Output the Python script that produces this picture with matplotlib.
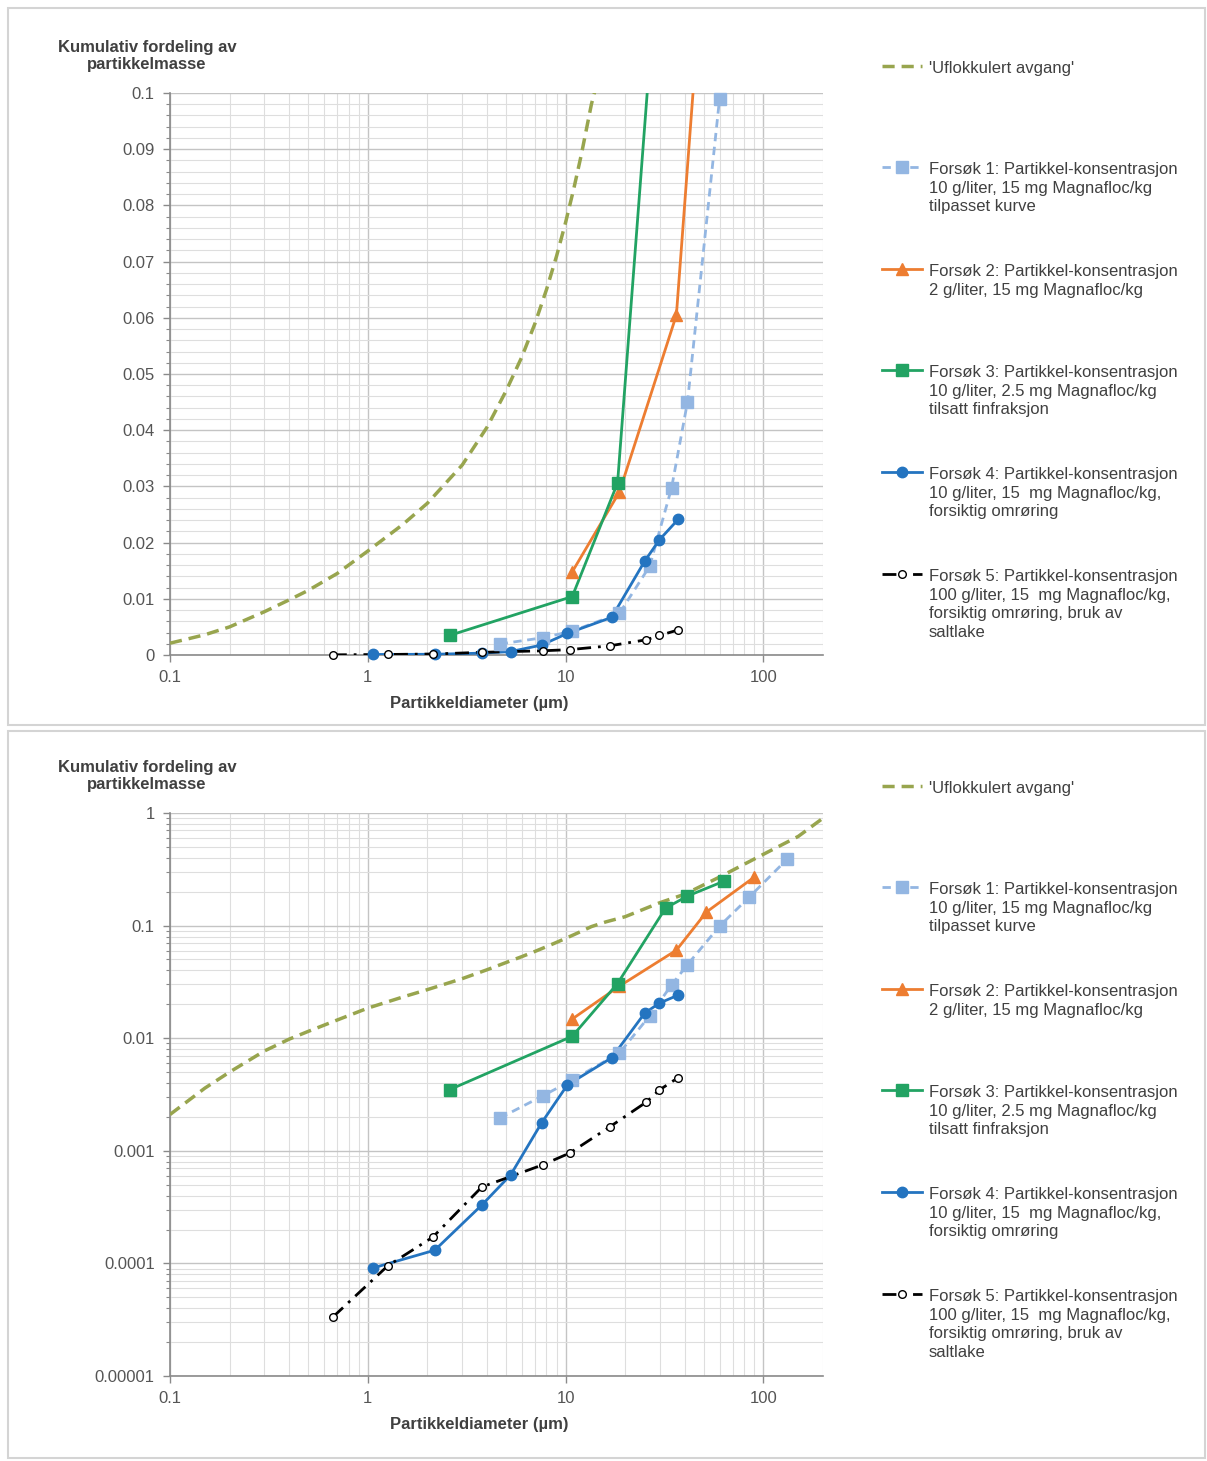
import matplotlib
matplotlib.use('Agg')
import matplotlib.pyplot as plt
import matplotlib.ticker as ticker
from matplotlib.lines import Line2D
from matplotlib.patches import Rectangle
import numpy as np

plt.rcParams['font.family'] = ['Liberation Sans', 'DejaVu Sans']

# partikkeldiameter (um) og kumulativ massefraksjon
avgang_x = [0.1, 0.15, 0.2, 0.3, 0.4, 0.5, 0.7, 1, 1.5, 2, 3, 4, 5, 6, 7, 8, 9, 10,
            11, 12, 13.5, 16, 20, 30, 40, 60, 100, 150, 200]
avgang_y = [0.0021, 0.0036, 0.005, 0.0077, 0.0098, 0.0115, 0.0145, 0.0185, 0.0232, 0.027,
            0.0338, 0.0405, 0.047, 0.053, 0.059, 0.065, 0.071, 0.077, 0.083, 0.089, 0.098,
            0.108, 0.12, 0.16, 0.19, 0.27, 0.43, 0.62, 0.9]

f1_x = [4.64, 7.65, 10.8, 18.7, 26.6, 34.3, 41.3, 60, 85, 132]
f1_y = [0.00195, 0.00307, 0.00425, 0.0074, 0.0158, 0.0297, 0.045, 0.099, 0.18, 0.39]

f2_x = [10.8, 18.7, 36.3, 51.5, 90]
f2_y = [0.0148, 0.029, 0.0605, 0.132, 0.27]

f3_x = [2.6, 10.8, 18.3, 32, 41.3, 63.5]
f3_y = [0.0035, 0.0104, 0.0306, 0.143, 0.183, 0.249]

f4_x = [1.06, 2.18, 3.77, 5.27, 7.56, 10.2, 17.1, 25.1, 29.8, 37.2]
f4_y = [9.1e-5, 1.31e-4, 3.3e-4, 6.1e-4, 1.77e-3, 3.84e-3, 6.7e-3, 0.0167, 0.0205, 0.0242]

f5_x = [0.666, 1.26, 2.13, 3.77, 7.65, 10.5, 16.7, 25.6, 29.8, 36.8]
f5_y = [3.34e-5, 9.5e-5, 1.71e-4, 4.77e-4, 7.5e-4, 9.56e-4, 1.63e-3, 2.71e-3, 3.47e-3, 4.43e-3]

labels = [
    "'Uflokkulert avgang'",
    "Forsøk 1: Partikkel-konsentrasjon\n10 g/liter, 15 mg Magnafloc/kg\ntilpasset kurve",
    "Forsøk 2: Partikkel-konsentrasjon\n2 g/liter, 15 mg Magnafloc/kg",
    "Forsøk 3: Partikkel-konsentrasjon\n10 g/liter, 2.5 mg Magnafloc/kg\ntilsatt finfraksjon",
    "Forsøk 4: Partikkel-konsentrasjon\n10 g/liter, 15  mg Magnafloc/kg,\nforsiktig omrøring",
    "Forsøk 5: Partikkel-konsentrasjon\n100 g/liter, 15  mg Magnafloc/kg,\nforsiktig omrøring, bruk av\nsaltlake",
]

x_ticks = [0.1, 1, 10, 100]
x_ticklabels = ['0.1', '1', '10', '100']
lin_ticks = [0, 0.01, 0.02, 0.03, 0.04, 0.05, 0.06, 0.07, 0.08, 0.09, 0.1]
lin_ticklabels = ['0', '0.01', '0.02', '0.03', '0.04', '0.05', '0.06', '0.07', '0.08', '0.09', '0.1']
log_ticks = [1e-5, 1e-4, 1e-3, 1e-2, 1e-1, 1]
log_ticklabels = ['0.00001', '0.0001', '0.001', '0.01', '0.1', '1']

series = [
    (avgang_x, avgang_y, dict(color='#98a54e', lw=2.5, dashes=(3.5, 2), marker=None)),
    (f1_x, f1_y, dict(color='#93b6e2', lw=2, dashes=(3, 2), marker='s', ms=8,
                      mfc='#93b6e2', mec='#93b6e2')),
    (f2_x, f2_y, dict(color='#ed7d31', lw=2, ls='-', marker='^', ms=8,
                      mfc='#ed7d31', mec='#ed7d31')),
    (f3_x, f3_y, dict(color='#22a363', lw=2, ls='-', marker='s', ms=8,
                      mfc='#22a363', mec='#22a363')),
    (f4_x, f4_y, dict(color='#2474c0', lw=2, ls='-', marker='o', ms=7.5,
                      mfc='#2474c0', mec='#2474c0')),
    (f5_x, f5_y, dict(color='black', lw=2, dashes=(5, 2.5, 1, 2.5), marker='o', ms=5.5,
                      mfc='white', mec='black', mew=1)),
]

W, H = 1207, 1461
fig = plt.figure(figsize=(W / 100, H / 100), dpi=100)


def fx(px):
    return px / W


def fy(py):
    return 1 - py / H


def split_style(kw):
    kw = dict(kw)
    mk = dict(marker=kw.pop('marker'), ms=kw.pop('ms', None), mfc=kw.pop('mfc', None),
              mec=kw.pop('mec', None), mew=kw.pop('mew', 1))
    return kw, mk


def draw_panel(top, bottom, log_y):
    ax = fig.add_axes([fx(170), fy(bottom), fx(823) - fx(170), fy(top) - fy(bottom)])
    ax.set_xscale('log')
    ax.set_xlim(0.1, 200)
    if log_y:
        ax.set_yscale('log')
        ax.set_ylim(1e-5, 1)
        ax.set_yticks(log_ticks)
        ax.set_yticklabels(log_ticklabels)
        ax.yaxis.set_minor_locator(ticker.LogLocator(base=10, subs=np.arange(2, 10), numticks=20))
        ax.yaxis.set_minor_formatter(ticker.NullFormatter())
    else:
        ax.set_ylim(0, 0.1)
        ax.set_yticks(lin_ticks)
        ax.set_yticklabels(lin_ticklabels)
        ax.yaxis.set_minor_locator(ticker.MultipleLocator(0.002))
    ax.set_xticks(x_ticks)
    ax.set_xticklabels(x_ticklabels)
    ax.xaxis.set_minor_locator(ticker.LogLocator(base=10, subs=np.arange(2, 10), numticks=20))
    ax.xaxis.set_minor_formatter(ticker.NullFormatter())

    ax.grid(which='major', color='#c4c4c4', lw=1)
    ax.grid(which='minor', color='#dedede', lw=0.8)
    ax.set_axisbelow(True)
    for s in ['top', 'right']:
        ax.spines[s].set_visible(False)
    for s in ['left', 'bottom']:
        ax.spines[s].set_color('#8a8a8a')
        ax.spines[s].set_linewidth(1.2)
    ax.tick_params(which='major', labelsize=12, labelcolor='#555555', color='#8a8a8a',
                   length=5, width=1)
    ax.tick_params(which='minor', color='#8a8a8a', length=3, width=0.8)
    ax.tick_params(axis='x', which='minor', length=0)
    ax.tick_params(axis='x', pad=6)
    ax.tick_params(axis='y', pad=6)

    ylo, yhi = ax.get_ylim()
    for xs, ys, kw in series:
        line_kw, mk = split_style(kw)
        ax.plot(xs, ys, zorder=3, **line_kw)
        if mk['marker']:
            # markørene tegnes uten klipping så de ikke kuttes i kanten
            ys_in = np.ma.masked_outside(np.array(ys), ylo, yhi * 1.001)
            ax.plot(xs, ys_in, ls='none', zorder=4, clip_on=False, **mk)

    ax.set_xlabel('Partikkeldiameter (µm)', fontsize=12, fontweight='bold', color='#404040')
    ax.xaxis.set_label_coords((479 - 170) / 653, -(696 - 655) / (bottom - top))
    fig.text(fx(147), fy(top - 37), 'Kumulativ fordeling av\npartikkelmasse', ha='center',
             va='center', fontsize=12, fontweight='bold', color='#404040', linespacing=1.1)
    return ax


def draw_legend(first_y):
    offsets = [0, 101, 203, 304, 406, 508]
    for (xs, ys, kw), label, off in zip(series, labels, offsets):
        y = fy(first_y + off)
        line_kw, mk = split_style(kw)
        fig.add_artist(Line2D([fx(882), fx(922)], [y, y], transform=fig.transFigure, **line_kw))
        if mk['marker']:
            fig.add_artist(Line2D([fx(902)], [y], transform=fig.transFigure, ls='none', **mk))
        fig.text(fx(929), y + 5 / H, label, ha='left', va='top', fontsize=12,
                 color='#404040', linespacing=1.3)


# ramme rundt hvert diagram
for t, b in [(8, 725), (731, 1458)]:
    fig.add_artist(Rectangle((fx(8), fy(b)), fx(1205) - fx(8), fy(t) - fy(b), fill=False,
                             edgecolor='#d4d4d4', lw=1.5, transform=fig.transFigure))

draw_panel(93, 655, log_y=False)
draw_legend(66)
draw_panel(813, 1376, log_y=True)
draw_legend(786)

fig.savefig('out.png', dpi=100, facecolor='white')
